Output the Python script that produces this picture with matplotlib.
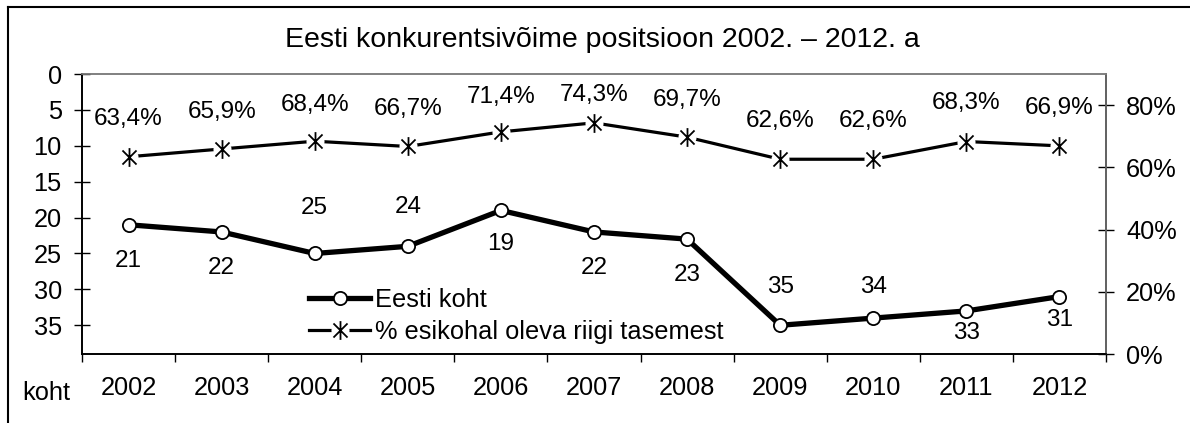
import matplotlib.pyplot as plt
from matplotlib.lines import Line2D
from matplotlib.path import Path
from matplotlib.ticker import FixedLocator, FuncFormatter

plt.rcParams['font.family'] = ['Liberation Sans', 'DejaVu Sans']

years = ['2002', '2003', '2004', '2005', '2006', '2007', '2008', '2009', '2010', '2011', '2012']
koht = [21, 22, 25, 24, 19, 22, 23, 35, 34, 33, 31]
protsent = [63.4, 65.9, 68.4, 66.7, 71.4, 74.3, 69.7, 62.6, 62.6, 68.3, 66.9]

# label offsets from the marker, in pixels (positive = above), as placed in the original
koht_off = [-36, -36, 45, 39, -34, -36, -36, 38, 31, -22, -23]
prots_off = [38, 37, 36, 37, 35, 28, 37, 38, 38, 39, 38]

# asterisk marker like Excel: vertical bar + X
star = Path([(0, -1), (0, 1), (-0.75, -0.75), (0.75, 0.75), (-0.75, 0.75), (0.75, -0.75)],
            [Path.MOVETO, Path.LINETO, Path.MOVETO, Path.LINETO, Path.MOVETO, Path.LINETO])

fs_tick = 18.3
fs_lab = 17.5
px = 0.72  # points per pixel at dpi 100
fig = plt.figure(figsize=(11.9, 4.23), dpi=100)
ax = fig.add_axes([82 / 1190, 1 - 354 / 423, (1106 - 82) / 1190, (354 - 74) / 423])
ax2 = ax.twinx()

x = list(range(len(years)))

# left axis: rank
ax.plot(x, koht, color='black', lw=3.8, marker='o', ms=9.5, mfc='white', mec='black', mew=1.3,
        zorder=3, label='Eesti koht')
ax.set_ylim(39, 0)
ax.set_xlim(-0.5, len(years) - 0.5)
ax.set_yticks(range(0, 40, 5))
for xi, v, o in zip(x, koht, koht_off):
    ax.annotate(str(v), (xi, v), xytext=(0, o * px), textcoords='offset points',
                ha='center', va='center', fontsize=fs_lab)

# right axis: percent of leader
l_line, = ax2.plot(x, protsent, color='black', lw=2.3, zorder=2)
l_gap, = ax2.plot(x, protsent, ls='none', marker='o', ms=13, mfc='white', mec='none', zorder=3)
l_star, = ax2.plot(x, protsent, ls='none', marker=star, ms=13.5, mec='black', mew=1.3, zorder=4)
ax2.set_ylim(0, 90)
ax2.set_yticks([0, 20, 40, 60, 80])
ax2.yaxis.set_major_formatter(FuncFormatter(lambda v, p: f'{v:.0f}%'))
for xi, v, o in zip(x, protsent, prots_off):
    ax2.annotate(f'{v:.1f}%'.replace('.', ','), (xi, v), xytext=(0, o * px), textcoords='offset points',
                 ha='center', va='center', fontsize=fs_lab)

# x axis: labels at centers, ticks at boundaries
ax.set_xticks(x)
ax.set_xticklabels(years)
ax.xaxis.set_minor_locator(FixedLocator([i - 0.5 for i in range(len(years) + 1)]))
ax.tick_params(axis='x', which='major', length=0, pad=16, labelsize=fs_tick)
ax.tick_params(axis='x', which='minor', length=6, width=1, direction='out')
ax.tick_params(axis='y', direction='inout', length=11, width=1, pad=9, labelsize=fs_tick)
ax2.tick_params(axis='y', direction='inout', length=11, width=1, pad=9, labelsize=fs_tick)

for a in (ax, ax2):
    a.spines['top'].set_color('#808080')
    a.spines['right'].set_color('#606060')
    a.spines['left'].set_color('black')
    a.spines['bottom'].set_color('black')
    for s in a.spines.values():
        s.set_linewidth(1.2)
ax.patch.set_visible(False)

ax.set_zorder(ax2.get_zorder() + 1)

# legend
h_koht = ax.get_lines()[0]
ax.legend([h_koht, (l_line, l_gap, l_star)], ['Eesti koht', '% esikohal oleva riigi tasemest'],
          loc='upper left', bbox_to_anchor=(309 / 1190, 1 - 288 / 423), bbox_transform=fig.transFigure,
          frameon=False, fontsize=fs_tick, handlelength=2.4, handletextpad=0.2,
          labelspacing=0.3, borderpad=0, borderaxespad=0)

fig.text(602 / 1190, 1 - 40 / 423, 'Eesti konkurentsivõime positsioon 2002. – 2012. a',
         ha='center', va='center', fontsize=20.5)
fig.text(22 / 1190, 1 - 393 / 423, 'koht', ha='left', va='center', fontsize=fs_tick)

# outer chart border (left and top edges visible)
fig.add_artist(Line2D([8 / 1190, 8 / 1190], [0, 1 - 7 / 423], transform=fig.transFigure,
                      color='black', lw=1.5))
fig.add_artist(Line2D([8 / 1190, 1], [1 - 7 / 423, 1 - 7 / 423], transform=fig.transFigure,
                      color='black', lw=1.5))

fig.savefig('out.png', dpi=100)
